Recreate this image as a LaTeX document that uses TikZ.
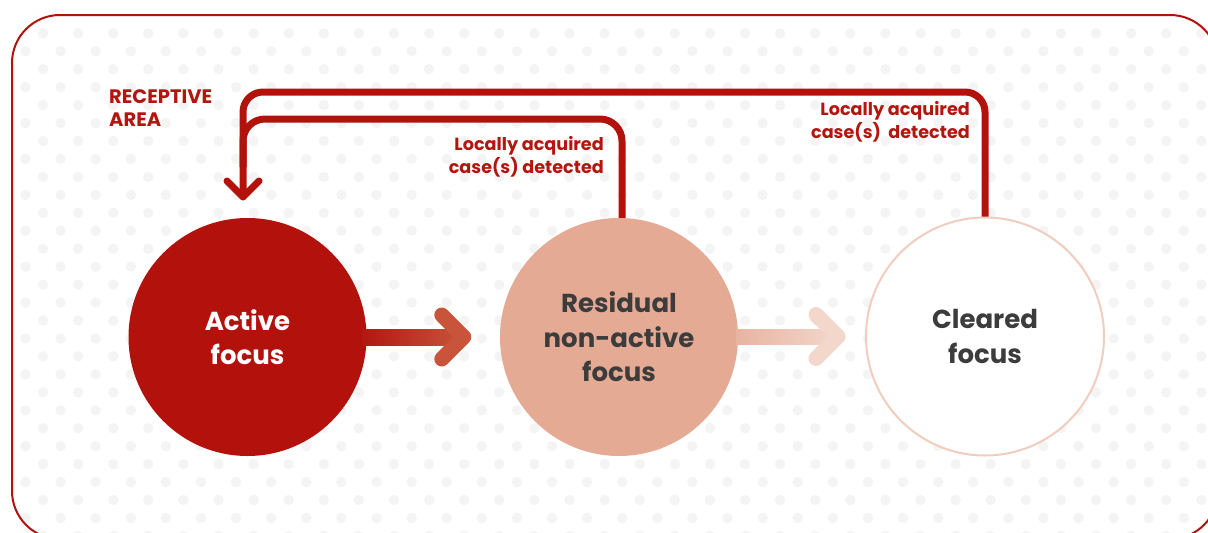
\documentclass[tikz,border=0pt]{standalone}
\usepackage{fontspec}
\setmainfont{Poppins}
\usetikzlibrary{calc}
\definecolor{deepred}{HTML}{B2110C}
\definecolor{salmon}{HTML}{E5AA94}
\definecolor{palering}{HTML}{F0CDBE}
\definecolor{darktext}{HTML}{3C3C3C}
\definecolor{lblred}{HTML}{B5150F}
\definecolor{dotgrey}{HTML}{F4F4F4}
\definecolor{arrAa}{HTML}{B11810}
\definecolor{arrAb}{HTML}{C8553B}
\definecolor{arrBa}{HTML}{E8B4A1}
\definecolor{arrBb}{HTML}{F3D7CB}
\tikzset{
  focus/.style={circle, minimum size=238pt, inner sep=0pt, align=center,
    font=\fontsize{26}{34.5}\selectfont\bfseries},
  lbl/.style={inner sep=0pt, text=lblred, font=\fontsize{17.6}{23}\selectfont\bfseries},
  loopline/.style={draw=deepred, line width=7pt},
  fatarrowhead/.style={line width=15pt, line cap=round, line join=round},
}
\begin{document}
\begin{tikzpicture}[x=1pt,y=-1pt]
\useasboundingbox (0,0) rectangle (1208,533);
\clip (0,0) rectangle (1208,533);
\fill[white] (0,0) rectangle (1208,533);
% dotted background inside frame
\begin{scope}
  \clip[rounded corners=48pt] (12,15) rectangle (1218,539);
  \foreach \k in {0,...,28}{
    \pgfmathsetmacro{\yy}{33.3+17.95*\k}
    \pgfmathsetmacro{\xo}{mod(\k,2)==0 ? 43 : 25.5}
    \foreach \j in {-1,...,35}{
      \fill[dotgrey] ({\xo+35.1*\j},\yy) circle (5.2pt);
    }
  }
\end{scope}
\draw[deepred, line width=2pt, rounded corners=48pt] (12,15) rectangle (1218,539);

% circles
\node[focus, fill=deepred, text=white] (active) at (247.5,337) {Active\\focus};
\node[focus, fill=salmon, text=darktext] (residual) at (619,337) {Residual\\non-active\\focus};
\node[focus, fill=white, draw=palering, line width=2pt, minimum size=238pt, text=darktext] (cleared) at (985,336.5) {Cleared\\focus};

% fat arrows
\shade[left color=arrAa, right color=arrAb] ($(active.east)+(-4,-8)$) rectangle ($(residual.west)+(-36,8)$);
\draw[fatarrowhead, arrAb] ($(residual.west)+(-58,-22)$) -- ($(residual.west)+(-36,0)$) -- ($(residual.west)+(-58,22)$);
\shade[left color=arrBa, right color=arrBb] ($(residual.east)+(-2,-8)$) rectangle ($(cleared.west)+(-27,8)$);
\draw[fatarrowhead, arrBb] ($(cleared.west)+(-49,-22)$) -- ($(cleared.west)+(-27,0)$) -- ($(cleared.west)+(-49,22)$);

% feedback loops
\coordinate (ra) at (243,197);
\coordinate (ytop) at (0,92);
\coordinate (ymid) at (0,119);
\coordinate (rn) at ($(residual.north)+(3,0)$);
\draw[loopline, rounded corners=20pt] (cleared.north) -- (cleared.north |- ytop) -- (ra |- ytop) -- (ra);
\draw[loopline, rounded corners=22pt] (rn) -- (rn |- ymid) -- (ra |- ymid) -- ($(ra)+(0,-30)$);
\draw[loopline, line cap=round, line join=round] ($(ra)+(-16,-16)$) -- (ra) -- ($(ra)+(16,-16)$);

% labels
\node[lbl, anchor=west, align=left, font=\fontsize{19.5}{23}\selectfont\bfseries] (rec) at (109,108) {RECEPTIVE\\AREA};
\node[lbl, anchor=east, align=right] (lab1) at (604,157) {Locally acquired\\case(s) detected};
\node[lbl, anchor=east, align=right] (lab2) at (970,122) {Locally acquired\\case(s)\ \ detected};
\end{tikzpicture}
\end{document}
